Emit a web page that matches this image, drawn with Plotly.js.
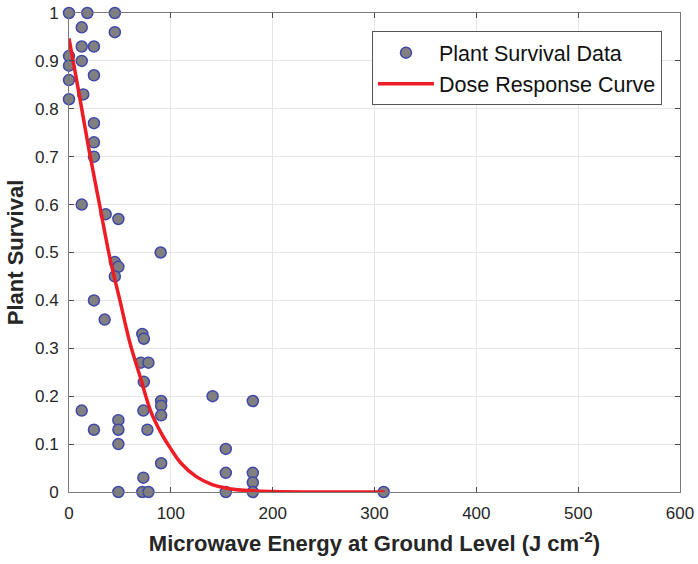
<!DOCTYPE html>
<html>
<head>
<meta charset="utf-8">
<script src="https://cdn.plot.ly/plotly-3.0.1.min.js"></script>
<style>html,body{margin:0;padding:0;background:#fff;}#chart{width:698px;height:564px;}</style>
</head>
<body>
<div id="chart"></div>
<script>
// Plant survival observations (energy J cm^-2, survival fraction)
const dataEnergy = [0, 18, 45, 12.5, 45, 12.5, 24.5, 0, 12.5, 0, 24.5, 0, 14, 0, 24.5, 24.5, 24.5,
  12.5, 36, 48.5, 90, 45, 48.5, 45, 24.5, 35,
  72, 73.5, 70.5, 78, 73.5, 12.5, 73, 90.5, 90.5, 90.5, 24.5, 48.5, 48.5, 48.5, 77, 90.5, 73, 48.5, 72, 78,
  141, 180.5, 154, 154, 180.5, 180.5, 154, 180.5, 309];
const dataSurvival = [1.0, 1.0, 1.0, 0.97, 0.96, 0.93, 0.93, 0.91, 0.90, 0.89, 0.87, 0.86, 0.83, 0.82, 0.77, 0.73, 0.70,
  0.60, 0.58, 0.57, 0.50, 0.48, 0.47, 0.45, 0.40, 0.36,
  0.33, 0.32, 0.27, 0.27, 0.23, 0.17, 0.17, 0.19, 0.18, 0.16, 0.13, 0.15, 0.13, 0.10, 0.13, 0.06, 0.03, 0, 0, 0,
  0.20, 0.19, 0.09, 0.04, 0.04, 0.02, 0, 0, 0];
// Dose response curve
const curveEnergy = [0, 10, 20, 30, 40, 50, 60, 70, 80, 90, 100, 110, 125, 140, 155, 175, 200, 250, 310];
const curveSurvival = [0.947, 0.83, 0.71, 0.60, 0.49, 0.40, 0.31, 0.24, 0.17, 0.125, 0.09, 0.06, 0.032, 0.016, 0.008, 0.003, 0.001, 0, 0];
const xTicks = [0, 100, 200, 300, 400, 500, 600];
const yTicks = [0, 0.1, 0.2, 0.3, 0.4, 0.5, 0.6, 0.7, 0.8, 0.9, 1];

const font = 'Liberation Sans, Arial, sans-serif';
const traces = [
  {x: dataEnergy, y: dataSurvival, type: 'scatter', mode: 'markers', name: 'Plant Survival Data',
   cliponaxis: false,
   marker: {size: 11, color: '#808080', line: {color: '#3f48aa', width: 1.5}}},
  {x: curveEnergy, y: curveSurvival, type: 'scatter', mode: 'lines', name: 'Dose Response Curve',
   cliponaxis: false,
   line: {color: '#ee1c24', width: 3.5, shape: 'spline', smoothing: 1}}
];
const axisCommon = {
  showline: true, linecolor: '#7a7a7a', linewidth: 1, mirror: 'allticks',
  ticks: 'inside', ticklen: 5, tickcolor: '#4a4a4a',
  showgrid: true, gridcolor: '#e6e6e6', gridwidth: 1, zeroline: false,
  tickfont: {family: font, size: 17, color: '#262626'}
};
const layout = {
  width: 698, height: 564,
  margin: {l: 69, r: 18, t: 13, b: 72},
  paper_bgcolor: '#fff', plot_bgcolor: '#fff',
  showlegend: true,
  legend: {x: 0.9705, y: 0.962, xanchor: 'right', yanchor: 'top',
    bgcolor: '#fff', bordercolor: '#555', borderwidth: 1, itemwidth: 56,
    font: {family: font, size: 21.5, color: '#111'}, tracegroupgap: 0},
  xaxis: Object.assign({}, axisCommon, {range: [0, 600], tickvals: xTicks, ticktext: xTicks.map(String),
    ticklabelstandoff: 6, automargin: 'bottom',
    title: {text: 'Microwave Energy at Ground Level (J cm<sup>-2</sup>)', standoff: 13,
      font: {family: font, size: 22, color: '#262626', weight: 'bold'}}}),
  yaxis: Object.assign({}, axisCommon, {range: [0, 1], tickvals: yTicks, ticktext: yTicks.map(String),
    ticklabelstandoff: 6, automargin: 'left',
    title: {text: 'Plant Survival', standoff: 5,
      font: {family: font, size: 22, color: '#262626', weight: 'bold'}}})
};
Plotly.newPlot('chart', traces, layout, {displayModeBar: false, staticPlot: true});
</script>
</body>
</html>
